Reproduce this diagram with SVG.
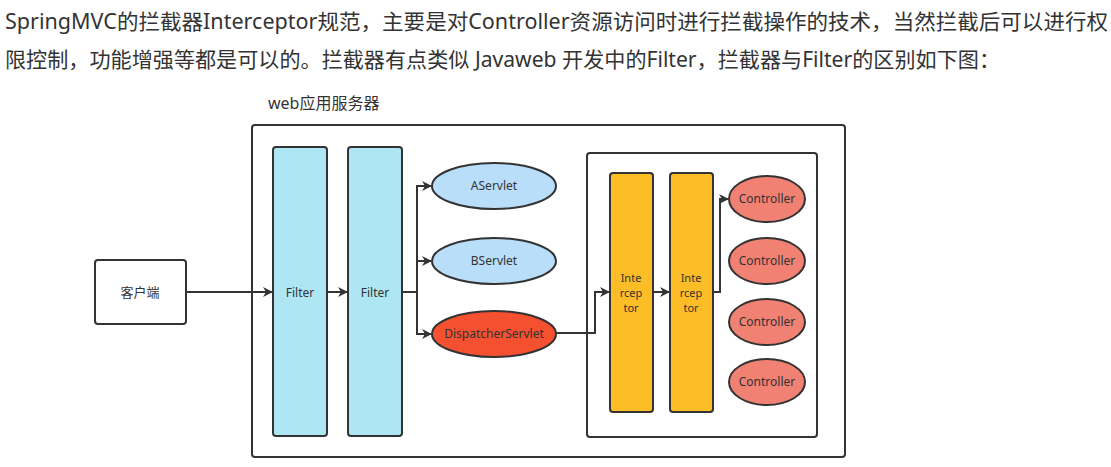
<svg xmlns="http://www.w3.org/2000/svg" width="1111" height="467" viewBox="0 0 1111 467">
<style>
.para{font-family:"Noto Sans","Noto Sans CJK SC",sans-serif;font-size:21px;fill:#333}
.lbl{font-family:"Noto Sans","Noto Sans CJK SC",sans-serif;font-size:12px;fill:#333;text-anchor:middle}
.it{font-size:11px}
.box{stroke:#333;stroke-width:2}
.ln{fill:none;stroke:#333;stroke-width:2}
</style>
<defs>
<marker id="ah" markerWidth="10" markerHeight="10" refX="9" refY="5" orient="auto" markerUnits="userSpaceOnUse">
<path d="M0,0 L10,5 L0,10 L3,5 Z" fill="#333"/>
</marker>
</defs>
<rect width="1111" height="467" fill="#fff"/>
<text class="para" x="5" y="29" textLength="1103" lengthAdjust="spacingAndGlyphs">SpringMVC的拦截器Interceptor规范，主要是对Controller资源访问时进行拦截操作的技术，当然拦截后可以进行权</text>
<text class="para" x="5" y="67" textLength="995" lengthAdjust="spacingAndGlyphs">限控制，功能增强等都是可以的。拦截器有点类似 Javaweb 开发中的Filter，拦截器与Filter的区别如下图：</text>
<text x="268" y="109" style="font-family:'Noto Sans','Noto Sans CJK SC',sans-serif;font-size:16px;fill:#333">web应用服务器</text>
<g id="server"><rect class="box" x="252" y="125" width="593" height="332" rx="3" fill="#fff"/></g>
<g id="inner"><rect class="box" x="587" y="153" width="230" height="284" rx="3" fill="#fff"/></g>
<g id="client"><rect class="box" x="95" y="260" width="91" height="64" rx="3" fill="#fff"/><text class="lbl" x="140" y="297" style="font-size:13px">客户端</text></g>
<g id="filter1"><rect class="box" x="273" y="147" width="54" height="289" rx="3" fill="#aee6f3"/><text class="lbl" x="300" y="297">Filter</text></g>
<g id="filter2"><rect class="box" x="348" y="147" width="54" height="289" rx="3" fill="#aee6f3"/><text class="lbl" x="375" y="297">Filter</text></g>
<g id="aservlet"><ellipse class="box" cx="494" cy="186" rx="62" ry="23" fill="#b9defa"/><text class="lbl" x="494" y="190">AServlet</text></g>
<g id="bservlet"><ellipse class="box" cx="494" cy="261" rx="62" ry="23" fill="#b9defa"/><text class="lbl" x="494" y="265">BServlet</text></g>
<g id="dispatcher"><ellipse class="box" cx="494" cy="334" rx="62" ry="23" fill="#f5502f"/><text class="lbl" x="494" y="338">DispatcherServlet</text></g>
<g id="interceptor1"><rect class="box" x="610" y="173" width="43" height="239" rx="3" fill="#fdbd26"/><text class="lbl it" x="631" y="282">Inte</text><text class="lbl it" x="631" y="297">rcep</text><text class="lbl it" x="631" y="312">tor</text></g>
<g id="interceptor2"><rect class="box" x="670" y="173" width="43" height="239" rx="3" fill="#fdbd26"/><text class="lbl it" x="691" y="282">Inte</text><text class="lbl it" x="691" y="297">rcep</text><text class="lbl it" x="691" y="312">tor</text></g>
<g id="controller1"><ellipse class="box" cx="767" cy="199" rx="38" ry="23" fill="#f08173"/><text class="lbl" x="767" y="203">Controller</text></g>
<g id="controller2"><ellipse class="box" cx="767" cy="261" rx="38" ry="23" fill="#f08173"/><text class="lbl" x="767" y="265">Controller</text></g>
<g id="controller3"><ellipse class="box" cx="767" cy="322" rx="38" ry="23" fill="#f08173"/><text class="lbl" x="767" y="326">Controller</text></g>
<g id="controller4"><ellipse class="box" cx="767" cy="382" rx="38" ry="23" fill="#f08173"/><text class="lbl" x="767" y="386">Controller</text></g>
<g id="connectors">
<path class="ln" d="M186,292 H272" marker-end="url(#ah)"/>
<path class="ln" d="M327,292 H347" marker-end="url(#ah)"/>
<path class="ln" d="M402,292 H417 V186 H431" marker-end="url(#ah)"/>
<path class="ln" d="M417,261 H431" marker-end="url(#ah)"/>
<path class="ln" d="M417,292 V334 H431" marker-end="url(#ah)"/>
<path class="ln" d="M556,333 H595 V292 H609" marker-end="url(#ah)"/>
<path class="ln" d="M653,292 H669" marker-end="url(#ah)"/>
<path class="ln" d="M713,292 H720 V199 H728" marker-end="url(#ah)"/>
</g>
</svg>
